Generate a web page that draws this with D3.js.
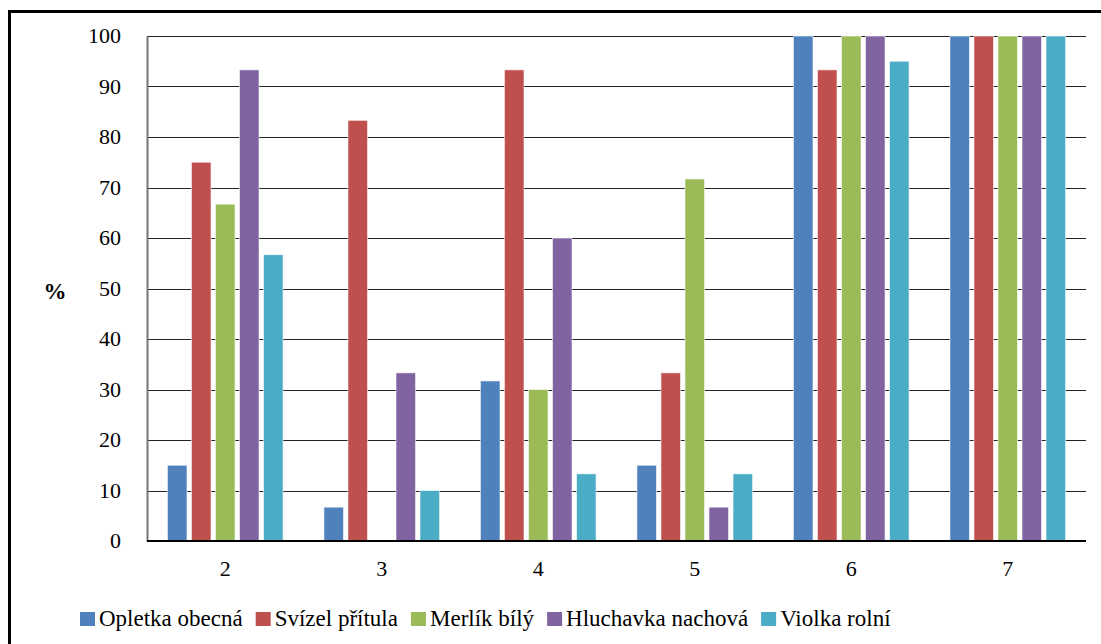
<!DOCTYPE html>
<html><head><meta charset="utf-8">
<script src="https://cdn.jsdelivr.net/npm/d3@7"></script>
<style>body{margin:0;background:#fff}svg{display:block}</style>
</head><body><svg id="c" width="1101" height="644" font-family="Liberation Serif"></svg>
<script>
const categories = ["2","3","4","5","6","7"];
const seriesNames = ["Opletka obecná","Svízel přítula","Merlík bílý","Hluchavka nachová","Violka rolní"];
const seriesColors = ["#4F81BD","#C0504D","#9BBB59","#8064A2","#4BACC6"];
const opletka = [15, 6.7, 31.7, 15, 100, 100];
const svizel = [75, 83.3, 93.3, 33.3, 93.3, 100];
const merlik = [66.7, 0, 30, 71.7, 100, 100];
const hluchavka = [93.3, 33.3, 60, 6.7, 100, 100];
const violka = [56.7, 10, 13.3, 13.3, 95, 100];
const yTicks = [0,10,20,30,40,50,60,70,80,90,100];
const seriesValues = [opletka, svizel, merlik, hluchavka, violka];

const svg = d3.select("#c");
const L = 147, R = 1086, T = 36, B = 541;

svg.append("rect").attr("x",9.5).attr("y",11.5).attr("width",1100).attr("height",640)
  .attr("fill","none").attr("stroke","#000").attr("stroke-width",3);

const x0 = d3.scaleBand().domain(categories).range([L,R]).paddingInner(0).paddingOuter(0);
const x1 = d3.scaleBand().domain(d3.range(5)).range([0,x0.bandwidth()]).paddingInner(0.185).paddingOuter(0.85);
const y = d3.scaleLinear().domain([0,100]).range([B,T]);

svg.append("g").selectAll("line").data(yTicks.filter(d=>d>0)).join("line")
  .attr("x1",L).attr("x2",R).attr("y1",d=>Math.round(y(d))+0.5).attr("y2",d=>Math.round(y(d))+0.5)
  .attr("stroke","#222").attr("stroke-width",1);

const g = svg.append("g");
categories.forEach((c,ci)=>{
  seriesValues.forEach((vals,si)=>{
    const v = vals[ci];
    if (v<=0) return;
    g.append("rect").attr("x",x0(c)+x1(si)).attr("y",y(v)).attr("width",x1.bandwidth()).attr("height",y(0)-y(v))
      .attr("fill",seriesColors[si]).attr("stroke","#fff").attr("stroke-opacity",0.6).attr("stroke-width",1);
  });
});

const ya = d3.axisLeft(y).tickValues(yTicks).tickSize(0).tickPadding(26);
const yg = svg.append("g").attr("transform",`translate(${L},0)`).call(ya);
yg.attr("font-family","Liberation Serif").attr("font-size",22);
yg.select(".domain").attr("stroke","#777").attr("stroke-width",2);
yg.selectAll("text").attr("fill","#000").attr("dy","0.3em");

const xa = d3.axisBottom(x0).tickSize(0).tickPadding(19);
const xg = svg.append("g").attr("transform",`translate(0,${B})`).call(xa);
xg.attr("font-family","Liberation Serif").attr("font-size",22);
xg.select(".domain").attr("stroke","#000").attr("stroke-width",2).attr("d",`M${L},0H${R}`);
xg.selectAll("text").attr("fill","#000");

svg.append("text").attr("x",55).attr("y",299).attr("text-anchor","middle")
  .attr("font-family","Liberation Serif").attr("font-size",23).attr("font-weight","bold").text("%");

const leg = svg.append("g").attr("font-family","Liberation Serif").attr("font-size",23);
let lx = 80;
const ly = 626;
seriesNames.forEach((n,i)=>{
  leg.append("rect").attr("x",lx).attr("y",ly-14).attr("width",15).attr("height",14).attr("fill",seriesColors[i]);
  const t = leg.append("text").attr("x",lx+19).attr("y",ly).attr("fill","#000").text(n);
  lx += 19 + t.node().getComputedTextLength() + 13;
});
</script></body></html>
